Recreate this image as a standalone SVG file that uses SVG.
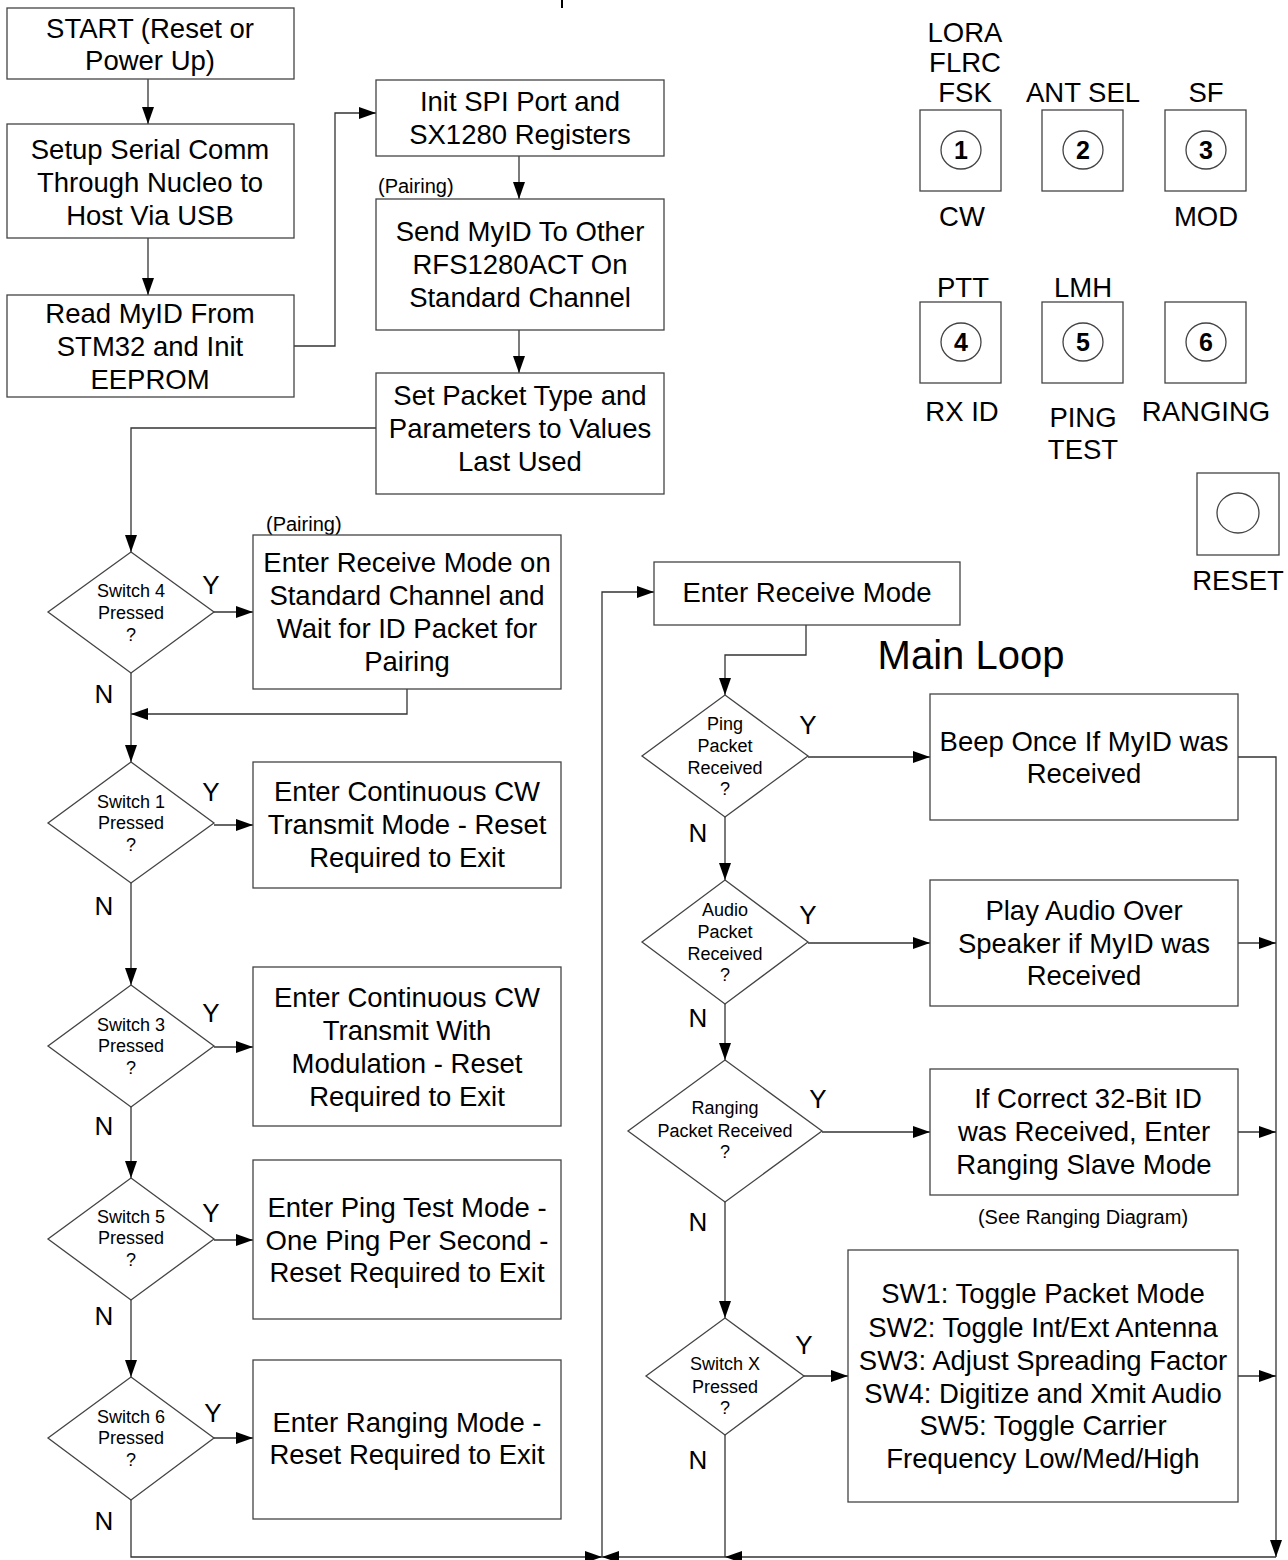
<svg xmlns="http://www.w3.org/2000/svg" width="1288" height="1560" viewBox="0 0 1288 1560">
<style>
.box{fill:#fff;stroke:#444;stroke-width:1.3}
.t{font-family:"Liberation Sans",Arial,sans-serif;font-size:27.5px;text-anchor:middle;fill:#000}
.d{font-size:18px}
.yn{font-size:26px}
.sm{font-size:20px}
.num{font-weight:bold;font-size:25px}
.ln{fill:none;stroke:#333;stroke-width:1.3}
.ar{marker-end:url(#ah)}
</style>
<defs>
<marker id="ah" markerUnits="userSpaceOnUse" markerWidth="17" markerHeight="12" refX="17" refY="6" orient="auto">
<path d="M0,0 L17,6 L0,12 z" fill="#000"/>
</marker>
</defs>
<rect width="1288" height="1560" fill="#fff"/>
<line x1="562" y1="0" x2="562" y2="8" stroke="#000" stroke-width="2"/>

<g id="connectors">
<path class="ln ar" d="M148,79 V124"/>
<path class="ln ar" d="M148,238 V295"/>
<path class="ln ar" d="M294,346 H335 V113 H376"/>
<path class="ln ar" d="M519,156 V199"/>
<path class="ln ar" d="M519,330 V373"/>
<path class="ln ar" d="M376,428 H131 V552"/>
<path class="ln ar" d="M214,612 H253"/>
<path class="ln ar" d="M407,689 V714 H131"/>
<path class="ln ar" d="M131,673 V762"/>
<path class="ln ar" d="M214,825 H253"/>
<path class="ln ar" d="M131,883 V985"/>
<path class="ln ar" d="M214,1047 H253"/>
<path class="ln ar" d="M131,1107 V1178"/>
<path class="ln ar" d="M214,1240 H253"/>
<path class="ln ar" d="M131,1300 V1377"/>
<path class="ln ar" d="M214,1438 H253"/>
<path class="ln ar" d="M131,1500 V1557 H602"/>
<path class="ln ar" d="M1238,757 H1276 V1557"/>
<path class="ln ar" d="M1276,1557 H725"/>
<path class="ln ar" d="M725,1557 H602"/>
<path class="ln" d="M725,1435 V1557"/>
<path class="ln ar" d="M602,1557 V592 H654"/>
<path class="ln ar" d="M806,625 V655 H725 V695"/>
<path class="ln ar" d="M808,757 H930"/>
<path class="ln ar" d="M725,817 V880"/>
<path class="ln ar" d="M808,943 H930"/>
<path class="ln ar" d="M1238,943 H1276"/>
<path class="ln ar" d="M725,1004 V1060"/>
<path class="ln ar" d="M822,1132 H930"/>
<path class="ln ar" d="M1238,1132 H1276"/>
<path class="ln ar" d="M725,1202 V1318"/>
<path class="ln ar" d="M804,1376 H848"/>
<path class="ln ar" d="M1238,1376 H1276"/>
</g>

<g id="start"><rect class="box" x="7" y="8" width="287" height="71"/>
<text class="t" x="150" y="38">START (Reset or</text><text class="t" x="150" y="70">Power Up)</text></g>
<g id="setup"><rect class="box" x="7" y="124" width="287" height="114"/>
<text class="t" x="150" y="159">Setup Serial Comm</text><text class="t" x="150" y="192">Through Nucleo to</text><text class="t" x="150" y="225">Host Via USB</text></g>
<g id="readid"><rect class="box" x="7" y="295" width="287" height="102"/>
<text class="t" x="150" y="323">Read MyID From</text><text class="t" x="150" y="356">STM32 and Init</text><text class="t" x="150" y="389">EEPROM</text></g>
<g id="initspi"><rect class="box" x="376" y="80" width="288" height="76"/>
<text class="t" x="520" y="111">Init SPI Port and</text><text class="t" x="520" y="144">SX1280 Registers</text></g>
<g id="sendid"><text class="t sm" x="378" y="193" style="text-anchor:start">(Pairing)</text>
<rect class="box" x="376" y="199" width="288" height="131"/>
<text class="t" x="520" y="241">Send MyID To Other</text><text class="t" x="520" y="274">RFS1280ACT On</text><text class="t" x="520" y="307">Standard Channel</text></g>
<g id="setpacket"><rect class="box" x="376" y="373" width="288" height="121"/>
<text class="t" x="520" y="405">Set Packet Type and</text><text class="t" x="520" y="438">Parameters to Values</text><text class="t" x="520" y="471">Last Used</text></g>

<g id="sw4"><path class="box" d="M131,552 L214,612 L131,673 L48,612 z"/>
<text class="t d" x="131" y="597">Switch 4</text><text class="t d" x="131" y="619">Pressed</text><text class="t d" x="131" y="641">?</text>
<text class="t yn" x="211" y="594">Y</text><text class="t yn" x="104" y="703">N</text></g>
<g id="pairing"><text class="t sm" x="266" y="531" style="text-anchor:start">(Pairing)</text>
<rect class="box" x="253" y="535" width="308" height="154"/>
<text class="t" x="407" y="572">Enter Receive Mode on</text><text class="t" x="407" y="605">Standard Channel and</text><text class="t" x="407" y="638">Wait for ID Packet for</text><text class="t" x="407" y="671">Pairing</text></g>

<g id="sw1"><path class="box" d="M131,762 L214,823 L131,883 L48,823 z"/>
<text class="t d" x="131" y="808">Switch 1</text><text class="t d" x="131" y="829">Pressed</text><text class="t d" x="131" y="851">?</text>
<text class="t yn" x="211" y="801">Y</text><text class="t yn" x="104" y="915">N</text></g>
<g id="cw"><rect class="box" x="253" y="762" width="308" height="126"/>
<text class="t" x="407" y="801">Enter Continuous CW</text><text class="t" x="407" y="834">Transmit Mode - Reset</text><text class="t" x="407" y="867">Required to Exit</text></g>

<g id="sw3"><path class="box" d="M131,985 L214,1046 L131,1107 L48,1046 z"/>
<text class="t d" x="131" y="1031">Switch 3</text><text class="t d" x="131" y="1052">Pressed</text><text class="t d" x="131" y="1074">?</text>
<text class="t yn" x="211" y="1022">Y</text><text class="t yn" x="104" y="1135">N</text></g>
<g id="cwmod"><rect class="box" x="253" y="967" width="308" height="159"/>
<text class="t" x="407" y="1007">Enter Continuous CW</text><text class="t" x="407" y="1040">Transmit With</text><text class="t" x="407" y="1073">Modulation - Reset</text><text class="t" x="407" y="1106">Required to Exit</text></g>

<g id="sw5"><path class="box" d="M131,1178 L214,1239 L131,1300 L48,1239 z"/>
<text class="t d" x="131" y="1223">Switch 5</text><text class="t d" x="131" y="1244">Pressed</text><text class="t d" x="131" y="1266">?</text>
<text class="t yn" x="211" y="1222">Y</text><text class="t yn" x="104" y="1325">N</text></g>
<g id="pingtest"><rect class="box" x="253" y="1160" width="308" height="159"/>
<text class="t" x="407" y="1217">Enter Ping Test Mode -</text><text class="t" x="407" y="1250">One Ping Per Second -</text><text class="t" x="407" y="1282">Reset Required to Exit</text></g>

<g id="sw6"><path class="box" d="M131,1377 L214,1438 L131,1500 L48,1438 z"/>
<text class="t d" x="131" y="1423">Switch 6</text><text class="t d" x="131" y="1444">Pressed</text><text class="t d" x="131" y="1466">?</text>
<text class="t yn" x="213" y="1422">Y</text><text class="t yn" x="104" y="1530">N</text></g>
<g id="ranging"><rect class="box" x="253" y="1360" width="308" height="159"/>
<text class="t" x="407" y="1432">Enter Ranging Mode -</text><text class="t" x="407" y="1464">Reset Required to Exit</text></g>

<g id="rxmode"><rect class="box" x="654" y="562" width="306" height="63"/>
<text class="t" x="807" y="602">Enter Receive Mode</text></g>
<text class="t" x="971" y="669" style="font-size:40px">Main Loop</text>

<g id="ping"><path class="box" d="M725,695 L808,756 L725,817 L642,756 z"/>
<text class="t d" x="725" y="730">Ping</text><text class="t d" x="725" y="752">Packet</text><text class="t d" x="725" y="774">Received</text><text class="t d" x="725" y="795">?</text>
<text class="t yn" x="808" y="734">Y</text><text class="t yn" x="698" y="842">N</text></g>
<g id="beep"><rect class="box" x="930" y="694" width="308" height="126"/>
<text class="t" x="1084" y="751">Beep Once If MyID was</text><text class="t" x="1084" y="783">Received</text></g>

<g id="audio"><path class="box" d="M725,880 L808,942 L725,1004 L642,942 z"/>
<text class="t d" x="725" y="916">Audio</text><text class="t d" x="725" y="938">Packet</text><text class="t d" x="725" y="960">Received</text><text class="t d" x="725" y="981">?</text>
<text class="t yn" x="808" y="924">Y</text><text class="t yn" x="698" y="1027">N</text></g>
<g id="play"><rect class="box" x="930" y="880" width="308" height="126"/>
<text class="t" x="1084" y="920">Play Audio Over</text><text class="t" x="1084" y="953">Speaker if MyID was</text><text class="t" x="1084" y="985">Received</text></g>

<g id="rangpkt"><path class="box" d="M725,1060 L822,1131 L725,1202 L628,1131 z"/>
<text class="t d" x="725" y="1114">Ranging</text><text class="t d" x="725" y="1137">Packet Received</text><text class="t d" x="725" y="1158">?</text>
<text class="t yn" x="818" y="1108">Y</text><text class="t yn" x="698" y="1231">N</text></g>
<g id="slave"><rect class="box" x="930" y="1069" width="308" height="126"/>
<text class="t" x="1088" y="1108">If Correct 32-Bit ID</text><text class="t" x="1084" y="1141">was Received, Enter</text><text class="t" x="1084" y="1174">Ranging Slave Mode</text>
<text class="t sm" x="1083" y="1224">(See Ranging Diagram)</text></g>

<g id="swx"><path class="box" d="M725,1318 L804,1376 L725,1435 L646,1376 z"/>
<text class="t d" x="725" y="1370">Switch X</text><text class="t d" x="725" y="1393">Pressed</text><text class="t d" x="725" y="1414">?</text>
<text class="t yn" x="804" y="1354">Y</text><text class="t yn" x="698" y="1469">N</text></g>
<g id="swbox"><rect class="box" x="848" y="1250" width="390" height="252"/>
<text class="t" x="1043" y="1303">SW1: Toggle Packet Mode</text><text class="t" x="1043" y="1337">SW2: Toggle Int/Ext Antenna</text><text class="t" x="1043" y="1370">SW3: Adjust Spreading Factor</text><text class="t" x="1043" y="1403">SW4: Digitize and Xmit Audio</text><text class="t" x="1043" y="1435">SW5: Toggle Carrier</text><text class="t" x="1043" y="1468">Frequency Low/Med/High</text></g>

<g id="btn1"><rect class="box" x="920" y="110" width="81" height="81"/><ellipse class="box" cx="961" cy="150" rx="20" ry="19"/>
<text class="t num" x="961" y="159">1</text>
<text class="t" x="965" y="42">LORA</text><text class="t" x="965" y="72">FLRC</text><text class="t" x="965" y="102">FSK</text><text class="t" x="962" y="226">CW</text></g>
<g id="btn2"><rect class="box" x="1042" y="110" width="81" height="81"/><ellipse class="box" cx="1083" cy="150" rx="20" ry="19"/>
<text class="t num" x="1083" y="159">2</text><text class="t" x="1083" y="102">ANT SEL</text></g>
<g id="btn3"><rect class="box" x="1165" y="110" width="81" height="81"/><ellipse class="box" cx="1206" cy="150" rx="20" ry="19"/>
<text class="t num" x="1206" y="159">3</text><text class="t" x="1206" y="102">SF</text><text class="t" x="1206" y="226">MOD</text></g>
<g id="btn4"><rect class="box" x="920" y="302" width="81" height="81"/><ellipse class="box" cx="961" cy="342" rx="20" ry="19"/>
<text class="t num" x="961" y="351">4</text><text class="t" x="963" y="297">PTT</text><text class="t" x="962" y="421">RX ID</text></g>
<g id="btn5"><rect class="box" x="1042" y="302" width="81" height="81"/><ellipse class="box" cx="1083" cy="342" rx="20" ry="19"/>
<text class="t num" x="1083" y="351">5</text><text class="t" x="1083" y="297">LMH</text><text class="t" x="1083" y="427">PING</text><text class="t" x="1083" y="459">TEST</text></g>
<g id="btn6"><rect class="box" x="1165" y="302" width="81" height="81"/><ellipse class="box" cx="1206" cy="342" rx="20" ry="19"/>
<text class="t num" x="1206" y="351">6</text><text class="t" x="1206" y="421">RANGING</text></g>
<g id="btnreset"><rect class="box" x="1197" y="473" width="82" height="82"/><ellipse class="box" cx="1238" cy="513" rx="21" ry="20"/>
<text class="t" x="1238" y="590">RESET</text></g>
</svg>
